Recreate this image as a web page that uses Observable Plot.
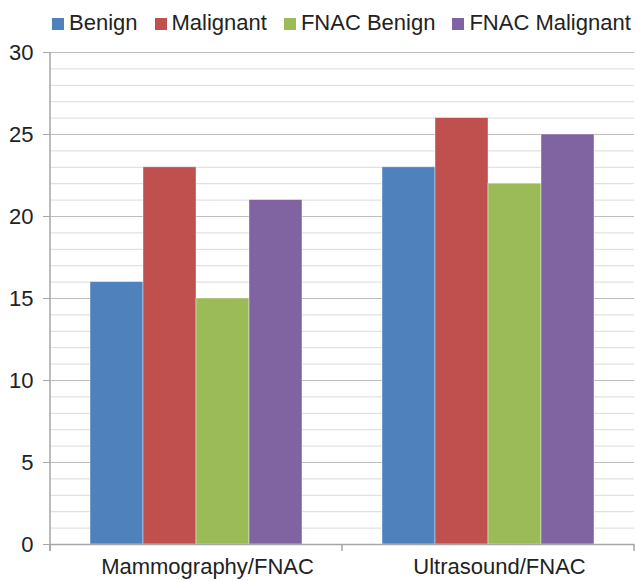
<!DOCTYPE html>
<html>
<head>
<meta charset="utf-8">
<script src="https://cdn.jsdelivr.net/npm/d3@7"></script>
<script src="https://cdn.jsdelivr.net/npm/@observablehq/plot@0.6"></script>
<style>
  html, body { margin: 0; padding: 0; background: #fff; }
  body { font-family: "Liberation Sans", Arial, sans-serif; color: #222; }
  #legend { height: 40px; box-sizing: border-box; padding: 10px 0 0 52px; font-size: 22px; line-height: 25px; white-space: nowrap; }
  #legend .item { display: inline-block; margin-right: 17px; }
  #legend .sw { display: inline-block; width: 12px; height: 12px; margin-right: 5px; vertical-align: baseline; }
  #chart svg { display: block; }
</style>
</head>
<body>
<div id="legend"></div>
<div id="chart"></div>
<script>
const categories = ["Mammography/FNAC", "Ultrasound/FNAC"];
const series = ["Benign", "Malignant", "FNAC Benign", "FNAC Malignant"];
const benign = [16, 23];
const malignant = [23, 26];
const fnacBenign = [15, 22];
const fnacMalignant = [21, 25];
const colors = ["#4F81BD", "#C0504D", "#9BBB59", "#8064A2"];
const yTicks = [0, 5, 10, 15, 20, 25, 30];
const yMinor = d3.range(0, 31);

const valuesBySeries = [benign, malignant, fnacBenign, fnacMalignant];
const data = [];
categories.forEach((c, i) => {
  series.forEach((s, j) => data.push({category: c, series: s, value: valuesBySeries[j][i]}));
});

// legend
const legend = document.getElementById("legend");
series.forEach((s, j) => {
  const item = document.createElement("span");
  item.className = "item";
  const sw = document.createElement("span");
  sw.className = "sw";
  sw.style.background = colors[j];
  item.appendChild(sw);
  item.appendChild(document.createTextNode(s));
  legend.appendChild(item);
});

const axisGray = "#a6a6a6";
const chart = Plot.plot({
  width: 636,
  height: 541,
  marginTop: 12,
  marginBottom: 37,
  marginLeft: 50,
  marginRight: 2,
  style: {fontFamily: "Liberation Sans, Arial, sans-serif", background: "#fff", color: "#222"},
  fx: {domain: categories, padding: 0, label: null},
  x: {domain: series, paddingInner: 0, paddingOuter: 0.75, axis: null},
  y: {domain: [0, 30], axis: null},
  color: {domain: series, range: colors},
  marks: [
    Plot.ruleY(yMinor, {stroke: "#dadada", strokeWidth: 1}),
    Plot.ruleY(yTicks, {stroke: "#bdbdbd", strokeWidth: 1}),
    Plot.barY(data, {fx: "category", x: "series", y: "value", fill: "series", stroke: "#ffffff", strokeOpacity: 0.5, strokeWidth: 0.8}),
    Plot.ruleY([0], {stroke: axisGray, strokeWidth: 1.5}),
    Plot.axisY({ticks: yTicks, tickSize: 7, tickPadding: 10, fontSize: 22, stroke: axisGray, fill: "#222", label: null}),
    Plot.axisFx({anchor: "bottom", tickSize: 0, tickPadding: 14, fontSize: 22, dx: 11, fill: "#222", label: null})
  ]
});
document.getElementById("chart").appendChild(chart);

// axis line and category boundary ticks, positioned from the plot's own scales
const fx = chart.scale("fx");
const y = chart.scale("y");
const y0 = y.apply(0);
const yTop = y.apply(30);
const bounds = fx.domain.map(c => fx.apply(c));
bounds.push(fx.apply(fx.domain[fx.domain.length - 1]) + fx.bandwidth);
const svg = d3.select(chart);
const g = svg.append("g").attr("stroke", axisGray).attr("stroke-width", 1.5);
g.append("line").attr("x1", bounds[0]).attr("x2", bounds[0]).attr("y1", yTop).attr("y2", y0 + 7);
bounds.forEach(b => {
  g.append("line").attr("x1", b).attr("x2", b).attr("y1", y0).attr("y2", y0 + 7);
});
</script>
</body>
</html>
